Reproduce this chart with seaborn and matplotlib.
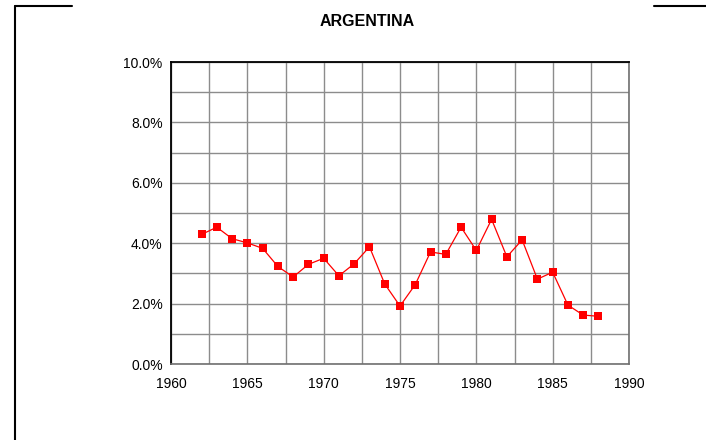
import numpy as np
import pandas as pd
import matplotlib
matplotlib.use("Agg")
import matplotlib.pyplot as plt
from matplotlib.lines import Line2D
from matplotlib.ticker import MultipleLocator, FuncFormatter
import seaborn as sns

# data (percent)
years = list(range(1962, 1989))
rates = [4.29, 4.53, 4.15, 4.01, 3.83, 3.23, 2.88, 3.30, 3.50, 2.92,
         3.32, 3.88, 2.65, 1.92, 2.63, 3.71, 3.63, 4.53, 3.76, 4.79,
         3.55, 4.11, 2.81, 3.04, 1.95, 1.62, 1.58]

df = pd.DataFrame({"year": years, "rate": rates})

sns.set_style("white")
plt.rcParams["font.family"] = ["Liberation Sans", "DejaVu Sans"]
plt.rcParams["text.color"] = "black"
plt.rcParams["xtick.labelcolor"] = "black"
plt.rcParams["ytick.labelcolor"] = "black"

fig = plt.figure(figsize=(7.06, 4.40), dpi=100)
ax = fig.add_axes([171 / 706, 1 - 364 / 440, 458 / 706, 302 / 440])

sns.lineplot(data=df, x="year", y="rate", ax=ax, color="red",
             marker="s", markersize=5.5, markeredgewidth=0, linewidth=0.9)

ax.set_xlim(1960, 1990)
ax.set_ylim(0, 10)
ax.xaxis.set_major_locator(MultipleLocator(5))
ax.xaxis.set_minor_locator(MultipleLocator(2.5))
ax.yaxis.set_major_locator(MultipleLocator(2))
ax.yaxis.set_minor_locator(MultipleLocator(1))
ax.yaxis.set_major_formatter(FuncFormatter(lambda v, p: f"{v:.1f}%"))

ax.grid(True, which="both", color="#8c8c8c", linewidth=1.0)
ax.set_axisbelow(True)
ax.tick_params(which="both", direction="out", length=4, width=1,
               color="#8c8c8c", labelcolor="black", labelsize=10, pad=2)
ax.tick_params(axis="x", which="major", pad=5)
ax.tick_params(axis="x", which="minor", length=4)
ax.tick_params(axis="y", which="minor", length=0)
ax.set_xlabel("")
ax.set_ylabel("")

for side in ["left", "top"]:
    ax.spines[side].set_color("black")
    ax.spines[side].set_linewidth(1.3)
for side in ["right", "bottom"]:
    ax.spines[side].set_color("#707070")
    ax.spines[side].set_linewidth(1.2)
for side in ax.spines:
    ax.spines[side].set_visible(True)

fig.text(367 / 706, 1 - 21 / 440, "ARGENTINA", ha="center", va="center",
         fontsize=11.5, fontweight="bold", color="black")

# partial outer frame
fig.add_artist(Line2D([15 / 706, 15 / 706], [0, 1 - 6 / 440], transform=fig.transFigure,
                      color="black", linewidth=1.5))
fig.add_artist(Line2D([15 / 706, 72 / 706], [1 - 6 / 440, 1 - 6 / 440], transform=fig.transFigure,
                      color="black", linewidth=1.5))
fig.add_artist(Line2D([654 / 706, 1], [1 - 6 / 440, 1 - 6 / 440], transform=fig.transFigure,
                      color="black", linewidth=1.5))

fig.savefig("out.png", dpi=100)
